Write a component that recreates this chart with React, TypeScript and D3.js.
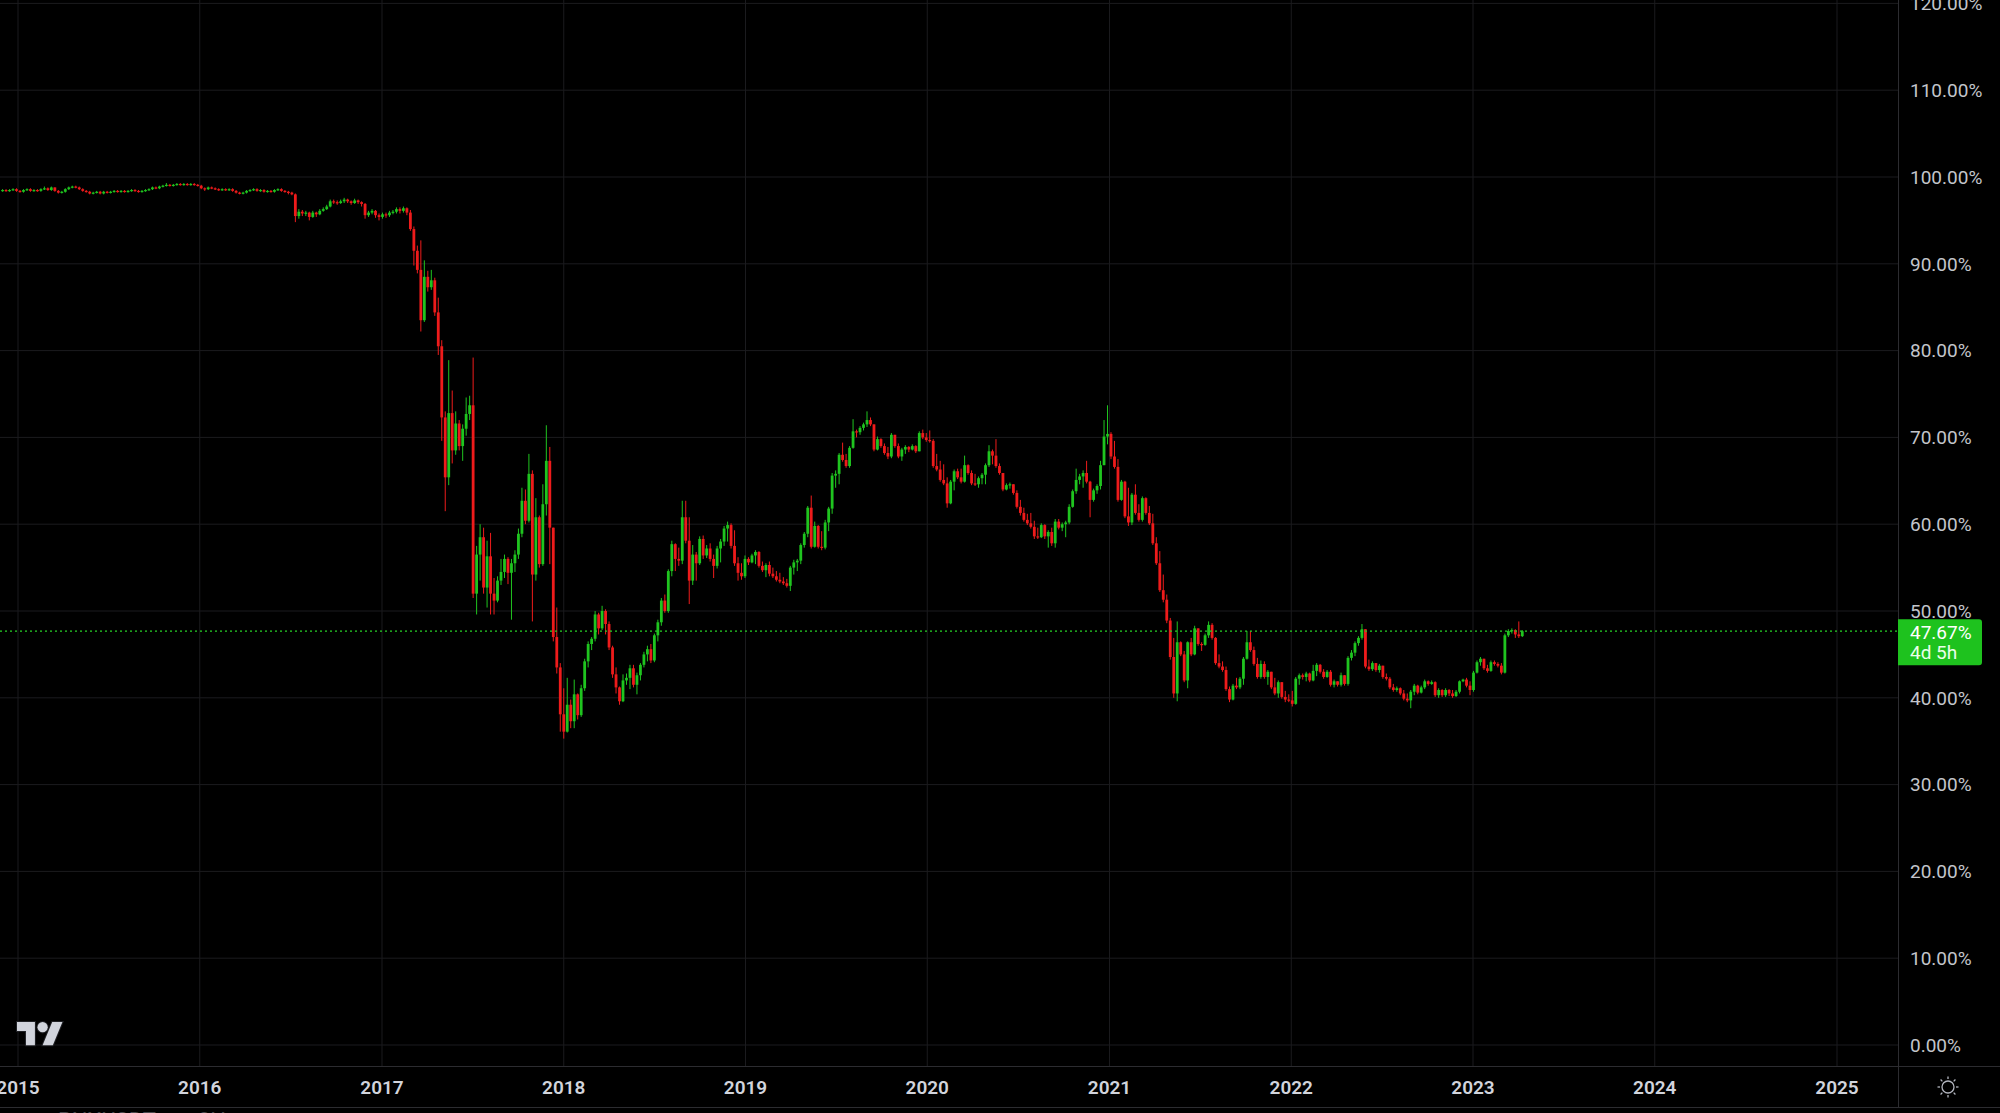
import React from "react";
import * as d3 from "d3";

// ---------- DATA (weekly candles, BTC dominance %) ----------
const yearTicks = [2015, 2016, 2017, 2018, 2019, 2020, 2021, 2022, 2023, 2024, 2025];
const priceTicks = [0, 10, 20, 30, 40, 50, 60, 70, 80, 90, 100, 110, 120];
const lastBarDate = "2023-04-10";
const lastPrice = 47.67;
const countdownText = "4d 5h";
const symbolText = "BNXUSDT";
const intervalText = "2H";
const firstOpen = 98.4;

const closes = [
  // 2014-12 .. 2016-07
  98.5, 98.4, 98.5, 98.6, 98.4, 98.3, 98.5, 98.6, 98.4, 98.5,
  98.4, 98.6, 98.7, 98.5, 98.8, 98.4, 98.2, 98.3, 98.6, 98.8,
  98.9, 98.8, 98.6, 98.4, 98.3, 98.1, 98.2, 98.3, 98.1, 98.3,
  98.2, 98.3, 98.4, 98.3, 98.4, 98.3, 98.4, 98.5, 98.4, 98.3,
  98.4, 98.5, 98.6, 98.8, 98.7, 98.9, 99.0, 99.1, 99.0, 99.1,
  99.2, 99.1, 99.2, 99.1, 99.2, 99.1, 99.0, 98.7, 98.6, 98.8,
  98.7, 98.6, 98.5, 98.6, 98.5, 98.6, 98.4, 98.2, 98.1, 98.2,
  98.4, 98.5, 98.6, 98.4, 98.5, 98.3, 98.4, 98.3, 98.5, 98.6,
  98.4, 98.3, 98.2, 98.0,
  // 2016-07 .. 2017-02
  95.5, 96.0, 95.8, 95.9, 95.4, 95.9, 95.7, 96.1, 96.3, 96.6,
  97.2, 97.1, 97.0, 97.2, 97.4, 97.2, 97.0, 97.3, 97.1, 96.9,
  95.6, 95.9, 96.1, 95.6, 95.4, 95.7, 95.6, 95.9, 96.0, 96.3,
  96.1, 96.4, 95.9,
  // 2017 collapse
  94.0, 91.5, 89.3, 83.5, 88.5, 87.3, 88.1, 84.4, 80.5, 72.3,
  65.4, 72.8, 68.5, 71.6, 69.0, 71.0, 72.7, 73.7, 52.0,
  // 2017-08 .. 2019-01
  56.5, 58.5, 52.7, 56.3, 52.0, 51.2, 53.5, 54.5, 56.0, 54.4,
  55.5, 56.5, 58.9, 62.7, 60.4, 65.8, 54.2, 60.8, 55.4, 62.3,
  67.3, 59.6, 47.0, 43.5, 38.1, 36.1, 39.2, 37.3, 40.4, 38.0,
  41.1, 44.2, 46.2, 46.8, 49.6, 48.0, 50.0, 48.5, 45.8, 42.7,
  41.2, 39.6, 42.0, 42.3, 43.4, 41.5, 42.6, 43.8, 45.0, 45.6,
  44.3, 47.2, 48.7, 51.2, 50.0, 54.6, 57.7, 56.0, 55.8, 60.8,
  58.1, 53.5, 56.5, 55.5, 58.3, 56.4, 57.2, 56.0, 55.2, 57.2,
  58.0, 59.5, 59.9, 57.5, 55.5, 54.4, 54.0, 56.0,
  // 2019 .. 2020-09
  55.6, 56.4, 56.8, 55.2, 54.7, 55.3, 54.3, 54.0, 53.6, 53.4,
  53.2, 52.9, 55.0, 55.6, 55.8, 57.6, 58.9, 61.9, 57.4, 59.8,
  57.4, 57.3, 60.2, 61.8, 65.6, 65.8, 68.0, 67.4, 66.7, 68.8,
  70.7, 70.6, 71.1, 71.5, 72.0, 71.5, 68.6, 69.8, 69.0, 68.2,
  67.8, 70.3, 69.0, 67.8, 68.6, 68.9, 68.6, 69.0, 68.4, 70.5,
  70.0, 69.7, 69.6, 66.7, 66.3, 65.1, 64.7, 62.4, 64.9, 66.1,
  65.4, 64.9, 66.8, 65.9, 64.7, 64.6, 65.3, 65.7, 66.8, 68.4,
  67.9, 66.7, 65.9, 64.0, 64.5, 64.6, 63.6, 62.0, 61.3, 60.5,
  60.1, 59.7, 58.6, 58.5, 59.9, 58.6, 59.1,
  // 2020-09 .. 2022-02
  57.8, 60.3, 59.6, 60.0, 60.2, 62.0, 63.8, 65.1, 65.5, 65.9,
  64.9, 62.8, 63.9, 64.4, 66.8, 70.1, 70.4, 67.8, 66.6, 62.8,
  64.9, 60.9, 60.2, 63.4, 61.3, 60.5, 63.0, 61.3, 60.1, 57.8,
  55.5, 52.4, 51.3, 48.9, 44.7, 40.5, 46.4, 45.0, 42.0, 46.4,
  45.0, 48.0, 46.2, 46.1, 47.2, 48.4, 46.9, 44.0, 43.6, 43.2,
  41.0, 39.8, 41.4, 41.2, 42.2, 44.5, 46.4, 45.5, 43.9, 42.4,
  43.9, 42.4, 43.0, 41.2, 40.5, 41.8, 40.1, 39.8, 39.7, 39.3,
  42.2,
  // 2022-02 .. 2023-04
  42.6, 42.4, 42.8, 42.0, 43.1, 43.8, 43.0, 42.4, 43.0, 41.5,
  41.9, 41.5, 42.6, 41.6, 44.6, 45.2, 46.3, 46.9, 47.9, 43.6,
  43.3, 44.0, 43.2, 43.7, 42.4, 42.2, 41.2, 40.9, 41.1, 40.5,
  39.9, 39.7, 40.7, 41.4, 40.6, 41.2, 41.9, 41.6, 41.8, 40.3,
  40.9, 40.3, 40.9, 40.5, 40.2, 40.7, 41.9, 42.1, 41.4, 40.9,
  42.9, 44.1, 44.5, 43.4, 43.1, 44.1, 43.9, 43.7, 42.9, 47.2,
  47.7, 47.8, 47.3, 47.1, 47.67,
];

const highs = [
  98.6, 98.6, 98.6, 98.7, 98.7, 98.5, 98.6, 98.7, 98.7, 98.6,
  98.6, 98.7, 98.9, 98.8, 98.9, 98.8, 98.5, 98.4, 98.7, 98.9,
  99.0, 99.0, 98.9, 98.7, 98.5, 98.4, 98.3, 98.4, 98.4, 98.4,
  98.4, 98.4, 98.5, 98.5, 98.5, 98.5, 98.5, 98.6, 98.6, 98.5,
  98.5, 98.6, 98.7, 98.9, 98.9, 99.0, 99.1, 99.3, 99.2, 99.2,
  99.3, 99.3, 99.3, 99.3, 99.3, 99.3, 99.2, 99.1, 98.8, 98.9,
  98.9, 98.8, 98.7, 98.7, 98.7, 98.7, 98.7, 98.5, 98.3, 98.3,
  98.5, 98.6, 98.7, 98.7, 98.6, 98.6, 98.5, 98.5, 98.6, 98.7,
  98.7, 98.5, 98.4, 98.3,
  98.1, 96.3, 96.2, 96.1, 96.0, 96.1, 96.0, 96.3, 96.5, 96.8,
  97.4, 97.4, 97.3, 97.4, 97.6, 97.5, 97.3, 97.5, 97.4, 97.2,
  97.0, 96.1, 96.3, 96.2, 95.8, 95.9, 95.9, 96.1, 96.2, 96.5,
  96.5, 96.6, 96.5,
  96.2, 94.3, 92.1, 92.7, 90.4, 89.2, 89.3, 88.4, 86.1, 81.2,
  73.0, 78.9, 75.4, 73.0, 72.0, 71.5, 74.6, 74.8, 79.2,
  57.5, 60.0, 59.6, 58.1, 59.0, 53.8, 54.0, 56.0, 56.5, 56.2,
  56.0, 57.0, 59.5, 64.2, 64.0, 68.1, 66.2, 63.0, 61.0, 64.6,
  71.4, 68.9, 59.6, 50.4, 44.0, 41.1, 42.3, 39.8, 42.1, 40.5,
  41.5, 44.5, 46.5, 47.0, 50.0, 49.8, 50.6, 50.2, 48.8, 46.0,
  43.5, 41.3, 42.7, 42.8, 43.8, 43.8, 42.9, 44.0, 45.3, 46.0,
  46.2, 47.4, 49.0, 51.5, 51.9, 54.8, 58.1, 57.8, 57.3, 62.7,
  62.7, 60.8, 57.6, 56.8, 58.6, 58.7, 57.6, 57.8, 56.5, 57.5,
  58.3, 59.8, 60.3, 60.1, 59.3, 56.2, 55.5, 56.4,
  56.2, 56.6, 57.0, 56.9, 55.7, 55.5, 55.7, 55.0, 54.6, 54.4,
  53.9, 53.7, 55.2, 55.9, 56.0, 57.8, 59.1, 62.1, 63.3, 60.3,
  59.9, 59.2, 60.5, 62.0, 65.9, 66.2, 68.2, 69.4, 68.1, 69.0,
  72.1, 70.9, 71.3, 71.7, 73.0, 72.3, 71.5, 70.1, 69.9, 69.3,
  68.9, 70.5, 70.3, 69.3, 68.8, 69.1, 69.0, 69.2, 69.1, 70.7,
  70.9, 70.5, 70.8, 69.8, 68.1, 67.3, 66.9, 65.4, 65.1, 66.3,
  66.4, 66.4, 67.9, 66.9, 66.2, 65.8, 65.5, 65.9, 67.0, 69.1,
  68.6, 69.8, 67.0, 65.2, 64.7, 64.8, 64.5, 63.9, 62.8, 61.9,
  61.2, 61.3, 60.4, 59.6, 60.1, 60.0, 59.3,
  59.6, 60.6, 60.6, 60.2, 60.4, 62.3, 64.0, 66.4, 65.8, 66.2,
  67.3, 65.0, 64.1, 64.6, 67.3, 72.0, 73.7, 70.6, 69.6, 67.5,
  65.1, 65.0, 64.2, 63.6, 64.6, 62.3, 63.2, 63.1, 62.1, 61.2,
  58.5, 56.9, 54.2, 51.9, 49.2, 46.9, 48.8, 46.5, 45.4, 46.5,
  46.9, 48.3, 47.8, 46.4, 47.4, 48.8, 48.6, 47.0, 45.0, 44.2,
  43.6, 41.3, 41.6, 42.3, 42.4, 44.7, 47.7, 47.7, 45.9, 44.6,
  44.3, 44.2, 43.2, 43.0, 42.3, 42.0, 41.6, 40.8, 40.4, 40.8,
  42.4,
  42.8, 42.8, 43.0, 42.9, 43.8, 44.0, 43.9, 43.3, 43.2, 43.2,
  42.1, 41.9, 42.9, 42.6, 44.8, 45.5, 46.5, 47.1, 48.5, 47.9,
  44.4, 44.2, 44.0, 43.9, 43.5, 42.8, 42.4, 41.6, 41.3, 41.2,
  40.9, 40.5, 40.9, 41.6, 41.5, 41.4, 42.1, 42.0, 42.0, 41.9,
  41.1, 41.0, 41.1, 41.0, 40.9, 40.9, 42.0, 42.2, 42.3, 41.9,
  43.1, 44.3, 44.7, 44.5, 43.8, 44.3, 44.3, 44.1, 44.0, 47.4,
  47.9, 48.0, 47.9, 48.8, 47.8,
];

const lows = [
  98.3, 98.3, 98.3, 98.4, 98.3, 98.2, 98.2, 98.4, 98.3, 98.3,
  98.3, 98.3, 98.5, 98.4, 98.4, 98.3, 98.1, 98.1, 98.2, 98.5,
  98.7, 98.7, 98.5, 98.3, 98.2, 98.0, 98.0, 98.1, 98.0, 98.0,
  98.1, 98.1, 98.2, 98.2, 98.2, 98.2, 98.2, 98.3, 98.3, 98.2,
  98.2, 98.3, 98.4, 98.5, 98.6, 98.6, 98.8, 98.9, 98.9, 98.9,
  99.0, 99.0, 99.0, 99.0, 99.0, 99.0, 98.9, 98.6, 98.4, 98.5,
  98.6, 98.5, 98.4, 98.4, 98.4, 98.4, 98.3, 98.1, 98.0, 98.0,
  98.1, 98.3, 98.4, 98.3, 98.3, 98.2, 98.2, 98.2, 98.2, 98.4,
  98.3, 98.2, 98.0, 97.9,
  94.8, 95.2, 95.5, 95.5, 95.0, 95.3, 95.4, 95.6, 96.0, 96.2,
  96.5, 96.9, 96.8, 96.9, 97.0, 97.0, 96.8, 96.9, 96.9, 96.6,
  95.2, 95.4, 95.7, 95.3, 95.0, 95.2, 95.3, 95.4, 95.7, 95.8,
  95.8, 95.9, 95.6,
  93.8, 89.8, 88.9, 82.2, 83.3, 86.8, 87.0, 84.0, 79.5, 69.6,
  61.5, 64.5, 67.0, 68.0, 68.5, 67.3, 70.2, 72.0, 51.5,
  49.6, 53.5, 52.0, 50.4, 49.6, 49.6, 51.0, 53.0, 53.8, 53.1,
  49.0, 54.5, 56.0, 58.5, 60.0, 60.2, 48.8, 53.5, 55.0, 55.2,
  61.0, 55.4, 46.5, 42.8, 36.1, 35.3, 36.0, 36.5, 36.5, 37.5,
  37.8, 40.8, 43.5, 45.5, 46.5, 47.3, 47.8, 47.3, 45.5, 42.3,
  40.5, 39.2, 39.5, 41.5, 41.0, 41.2, 40.4, 42.0, 43.5, 44.2,
  44.0, 44.1, 46.5, 48.3, 49.8, 49.8, 54.0, 54.6, 55.2, 55.4,
  57.8, 50.8, 53.0, 53.5, 55.3, 56.0, 56.1, 55.7, 53.8, 54.9,
  55.6, 57.5, 58.0, 57.2, 55.2, 53.5, 53.6, 53.8,
  55.3, 55.5, 55.4, 55.0, 54.5, 53.9, 54.0, 53.8, 53.4, 53.2,
  53.0, 52.7, 52.3, 54.2, 54.6, 55.4, 57.3, 58.5, 57.2, 57.3,
  57.2, 57.0, 57.1, 59.2, 61.2, 64.2, 64.6, 67.2, 66.5, 66.5,
  68.7, 70.0, 70.3, 70.8, 71.2, 71.3, 68.4, 68.5, 68.8, 68.0,
  67.5, 67.6, 68.8, 67.6, 67.3, 68.1, 68.3, 68.5, 68.2, 68.4,
  69.8, 69.5, 69.4, 66.5, 66.1, 64.9, 64.5, 61.9, 62.3, 63.9,
  65.2, 64.7, 64.8, 65.7, 64.5, 64.4, 64.2, 64.6, 64.6, 66.6,
  66.9, 66.5, 65.7, 63.8, 63.9, 64.1, 63.4, 61.8, 61.0, 60.3,
  59.9, 59.5, 58.3, 58.3, 58.4, 58.3, 57.3,
  57.5, 57.3, 59.4, 59.2, 58.5, 60.0, 61.9, 63.5, 64.6, 64.2,
  64.7, 60.8, 62.6, 63.5, 64.0, 66.8, 69.2, 67.5, 66.4, 62.6,
  62.7, 60.7, 59.8, 59.9, 61.1, 60.3, 60.3, 61.1, 59.9, 57.6,
  55.3, 52.2, 51.0, 48.6, 44.4, 40.0, 39.6, 44.8, 41.8, 41.1,
  44.8, 44.9, 46.0, 45.4, 46.0, 46.9, 46.7, 43.8, 43.4, 43.0,
  40.8, 39.5, 39.7, 41.0, 41.0, 41.5, 44.4, 45.3, 43.7, 42.2,
  42.2, 42.2, 41.5, 41.0, 40.3, 40.0, 39.9, 39.5, 39.5, 39.0,
  39.2,
  41.5, 42.1, 41.9, 41.8, 41.9, 42.5, 42.8, 42.2, 42.3, 41.3,
  41.2, 41.3, 41.3, 41.4, 41.4, 44.3, 44.8, 46.0, 46.7, 43.4,
  43.1, 43.1, 43.0, 42.9, 42.2, 42.0, 41.0, 40.7, 40.7, 40.3,
  39.7, 39.5, 38.8, 40.3, 40.4, 40.5, 41.0, 41.4, 41.5, 40.1,
  40.0, 40.1, 40.1, 40.2, 40.0, 40.1, 40.5, 41.8, 41.2, 40.3,
  40.7, 42.8, 43.7, 43.2, 42.9, 43.0, 43.7, 43.5, 42.7, 42.8,
  47.0, 47.4, 46.9, 46.9, 47.0,
];

// ---------- LAYOUT ----------
const W = 2000;
const H = 1113;
const plotRight = 1898;
const plotBottom = 1066;
const axisBottom = 1107;
const FONT = "Roboto, 'Noto Sans', 'DejaVu Sans', sans-serif";
const UP = "#1fc41f";
const DOWN = "#ee1b1b";
const GRID = "#1b1b1e";
const BORDER = "#2c2c30";

export default function App() {
  const x = d3
    .scaleUtc()
    .domain([new Date(Date.UTC(2015, 0, 1)), new Date(Date.UTC(2025, 0, 1))])
    .range([18, 1837]);
  const y = d3.scaleLinear().domain([0, 100]).range([1045, 177]);

  const n = closes.length;
  const lastT = new Date(lastBarDate + "T00:00:00Z").getTime();
  const WEEK = 7 * 86400000;
  const candles = closes.map((c, i) => {
    const o = i === 0 ? firstOpen : closes[i - 1];
    const h = Math.max(highs[i], o, c);
    const l = Math.min(lows[i], o, c);
    const d = new Date(lastT - (n - 1 - i) * WEEK);
    return { o, h, l, c, d };
  });

  const bw = 2.8;
  const fmt = d3.format(".2f");
  const lastY = y(lastPrice);

  const sunCx = 1948;
  const sunCy = 1087;
  const rays = d3.range(8).map((k) => (k * Math.PI) / 4);

  return (
    <svg
      width={W}
      height={H}
      style={{ position: "absolute", left: 0, top: 0, background: "#000" }}
      fontFamily={FONT}
    >
      <rect x={0} y={0} width={W} height={H} fill="#000" />

      {/* grid */}
      {priceTicks.map((p) => (
        <line key={"hg" + p} x1={0} x2={plotRight} y1={y(p)} y2={y(p)} stroke={GRID} strokeWidth={1} />
      ))}
      {yearTicks.map((yr) => {
        const xx = x(new Date(Date.UTC(yr, 0, 1)));
        return <line key={"vg" + yr} x1={xx} x2={xx} y1={0} y2={plotBottom} stroke={GRID} strokeWidth={1} />;
      })}

      {/* candles */}
      {candles.map((k, i) => {
        const cx = x(k.d);
        const col = k.c >= k.o ? UP : DOWN;
        const top = y(Math.max(k.o, k.c));
        const bot = y(Math.min(k.o, k.c));
        return (
          <g key={i} fill={col}>
            <rect x={cx - 0.5} y={y(k.h)} width={1} height={Math.max(1, y(k.l) - y(k.h))} />
            <rect x={cx - bw / 2} y={top} width={bw} height={Math.max(1.2, bot - top)} />
          </g>
        );
      })}

      {/* last price dotted line */}
      <line
        x1={0}
        x2={plotRight}
        y1={lastY}
        y2={lastY}
        stroke="#27d127"
        strokeWidth={1.3}
        strokeDasharray="2 3"
      />

      {/* axis borders */}
      <line x1={plotRight + 0.5} x2={plotRight + 0.5} y1={0} y2={axisBottom} stroke={BORDER} />
      <line x1={0} x2={W} y1={plotBottom + 0.5} y2={plotBottom + 0.5} stroke={BORDER} />
      <line x1={0} x2={W} y1={axisBottom + 0.5} y2={axisBottom + 0.5} stroke={BORDER} />

      {/* price labels */}
      {priceTicks.map((p) => (
        <text key={"pl" + p} x={1910} y={y(p)} dy="0.36em" fill="#c3c5cb" fontSize={19}>
          {fmt(p)}%
        </text>
      ))}

      {/* last price tag */}
      <path
        d={`M${plotRight},${lastY - 12} H${1979} a3,3 0 0 1 3,3 V${lastY + 31} a3,3 0 0 1 -3,3 H${plotRight} Z`}
        fill="#1ec21e"
      />
      <text x={1910} y={lastY + 1} dy="0.36em" fill="#ffffff" fontSize={19}>
        {fmt(lastPrice)}%
      </text>
      <text x={1910} y={lastY + 21} dy="0.36em" fill="#eaffea" fontSize={19}>
        {countdownText}
      </text>

      {/* year labels */}
      {yearTicks.map((yr) => (
        <text
          key={"yl" + yr}
          x={x(new Date(Date.UTC(yr, 0, 1)))}
          y={1094}
          textAnchor="middle"
          fill="#d1d4dc"
          fontSize={19}
          fontWeight={600}
        >
          {yr}
        </text>
      ))}

      {/* sun icon */}
      <g stroke="#b2b5be" strokeWidth={1.3} fill="none">
        <circle cx={sunCx} cy={sunCy} r={6} />
        {rays.map((a, k) => (
          <line
            key={k}
            x1={sunCx + Math.cos(a) * 8}
            y1={sunCy + Math.sin(a) * 8}
            x2={sunCx + Math.cos(a) * 10.5}
            y2={sunCy + Math.sin(a) * 10.5}
          />
        ))}
      </g>

      {/* TradingView logo */}
      <g transform="translate(17,1017) scale(1.28)" fill="#d1d4dc" stroke="#1f2024" strokeWidth={1.6} paintOrder="stroke">
        <path d="M14 22H7V11H0V4h14v18zM28 22h-8l7.5-18h8L28 22z" />
        <circle cx={20} cy={8} r={4} />
      </g>

      {/* cut-off footer text */}
      <text x={58} y={1128} fill="#4a4a4e" fontSize={22}>
        {symbolText}
      </text>
      <text x={198} y={1128} fill="#4a4a4e" fontSize={22}>
        {intervalText}
      </text>
    </svg>
  );
}
